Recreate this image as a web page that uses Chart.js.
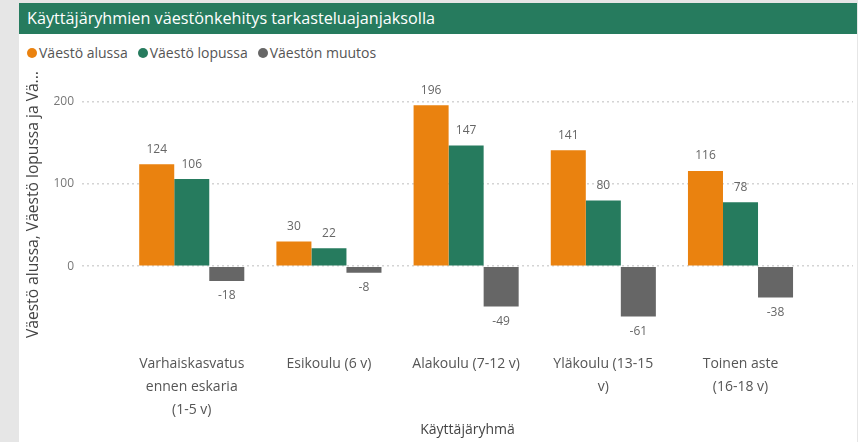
<!DOCTYPE html>
<html>
<head>
<meta charset="utf-8">
<script src="https://cdn.jsdelivr.net/npm/chart.js@4.4.0/dist/chart.umd.min.js"></script>
<style>
  html, body { margin: 0; padding: 0; }
  body { width: 858px; height: 442px; background: #e6e6e6; position: relative; overflow: hidden; font-family: "Open Sans", sans-serif; }
  #panel { position: absolute; left: 19px; top: 3px; width: 838px; height: 439px; background: #fff; }
  #title { height: 31px; background: #267b5e; color: #fff; font-size: 16.2px; line-height: 31px; padding-left: 8px; }
  #legend { position: absolute; left: 8px; top: 41px; font-size: 14px; color: #555; display: flex; line-height: 18px; }
  #legend span.item { display: flex; align-items: center; margin-right: 10px; }
  #legend span.dot { width: 10px; height: 10px; border-radius: 50%; margin-right: 2px; display: inline-block; }
  #wrap { position: absolute; left: 0; top: 59px; width: 839px; height: 380px; }
</style>
</head>
<body>
<div id="panel">
  <div id="title">Käyttäjäryhmien väestönkehitys tarkasteluajanjaksolla</div>
  <div id="legend"></div>
  <div id="wrap"><canvas id="myChart"></canvas></div>
</div>
<script>
const categories = [
  ["Varhaiskasvatus", "ennen eskaria", "(1-5 v)"],
  ["Esikoulu (6 v)"],
  ["Alakoulu (7-12 v)"],
  ["Yläkoulu (13-15", "v)"],
  ["Toinen aste", "(16-18 v)"]
];
const seriesNames = ["Väestö alussa", "Väestö lopussa", "Väestön muutos"];
const seriesColors = ["#ea820f", "#267b5e", "#666666"];
const vaestoAlussa = [124, 30, 196, 141, 116];
const vaestoLopussa = [106, 22, 147, 80, 78];
const vaestonMuutos = [-18, -8, -49, -61, -38];
const yTicks = [0, 100, 200];

// legend
const legend = document.getElementById('legend');
seriesNames.forEach((name, i) => {
  const item = document.createElement('span');
  item.className = 'item';
  item.innerHTML = '<span class="dot" style="background:' + seriesColors[i] + '"></span>' + name;
  legend.appendChild(item);
});

function toPoints(values) {
  return values.map((v, i) => ({ x: i, y: v }));
}

// arvot palkkien päälle / alle
const valueLabels = {
  id: 'valueLabels',
  afterDatasetsDraw(chart) {
    const c = chart.ctx;
    c.save();
    c.font = '12px "Open Sans"';
    c.fillStyle = '#666';
    c.textAlign = 'center';
    c.textBaseline = 'middle';
    chart.data.datasets.forEach((ds, di) => {
      chart.getDatasetMeta(di).data.forEach((bar, i) => {
        const v = ds.data[i].y;
        const y = v >= 0 ? bar.y - 15 : bar.y + 15;
        c.fillText(String(v), bar.x, y);
      });
    });
    c.restore();
  }
};

const ctx = document.getElementById('myChart');
const chart = new Chart(ctx, {
  type: 'bar',
  data: {
    datasets: [
      { label: seriesNames[0], data: toPoints(vaestoAlussa), backgroundColor: seriesColors[0] },
      { label: seriesNames[1], data: toPoints(vaestoLopussa), backgroundColor: seriesColors[1] },
      { label: seriesNames[2], data: toPoints(vaestonMuutos), backgroundColor: seriesColors[2] }
    ]
  },
  options: {
    responsive: true,
    maintainAspectRatio: false,
    animation: false,
    categoryPercentage: 0.766,
    barPercentage: 1,
    layout: { padding: { left: 5, right: 5, top: 15, bottom: 4 } },
    plugins: {
      legend: { display: false },
      tooltip: { enabled: false }
    },
    scales: {
      x: {
        type: 'linear',
        offset: false,
        min: -0.8,
        max: 4.82,
        afterBuildTicks(scale) {
          scale.ticks = categories.map((c, i) => ({ value: i }));
        },
        afterFit(scale) { scale.height = 106; },
        grid: { display: false, offset: false },
        border: { display: false },
        ticks: {
          autoSkip: false,
          maxRotation: 0,
          padding: 12,
          color: '#555',
          font: { family: 'Open Sans', size: 14, lineHeight: 1.66 },
          callback: (v) => categories[v]
        },
        title: {
          display: true,
          text: 'Käyttäjäryhmä',
          color: '#444',
          font: { family: 'Open Sans', size: 14 },
          padding: 0
        }
      },
      y: {
        min: -80,
        max: 230,
        afterBuildTicks(scale) {
          scale.ticks = yTicks.map(v => ({ value: v }));
        },
        afterFit(scale) { scale.width = 58; },
        grid: { color: '#d4d4d4', drawTicks: false, lineWidth: 1.5 },
        border: { display: false, dash: [2, 3] },
        ticks: {
          padding: 8,
          color: '#777',
          font: { family: 'Open Sans', size: 12 }
        },
        title: {
          display: true,
          text: 'Väestö alussa, Väestö lopussa ja Vä...',
          color: '#444',
          font: { family: 'Open Sans', size: 15.6 },
          padding: 0
        }
      }
    }
  },
  plugins: [valueLabels]
});
</script>
</body>
</html>
